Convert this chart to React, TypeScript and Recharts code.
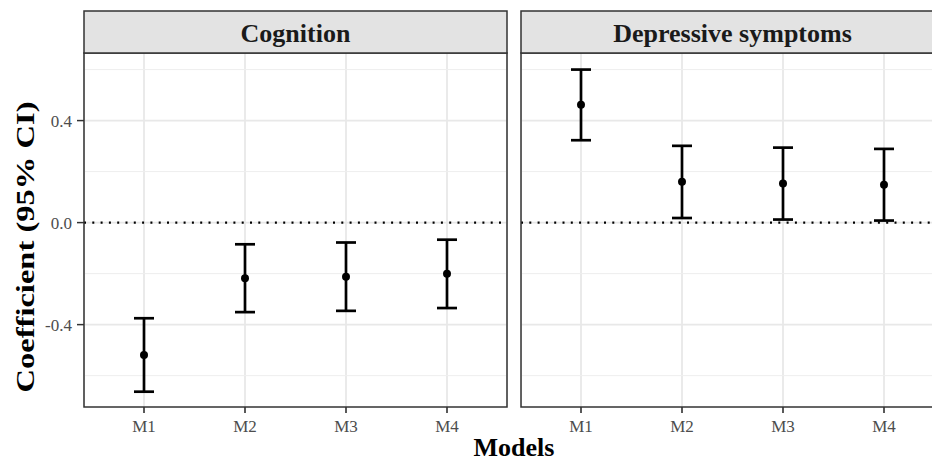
import { CartesianGrid, ComposedChart, ErrorBar, Line, ReferenceLine, XAxis, YAxis } from 'recharts'

const models = ['M1', 'M2', 'M3', 'M4']

const cognitionEst = [-0.519, -0.218, -0.212, -0.201]
const cognitionLow = [-0.663, -0.351, -0.346, -0.335]
const cognitionHigh = [-0.375, -0.085, -0.078, -0.067]

const depressiveEst = [0.462, 0.16, 0.153, 0.148]
const depressiveLow = [0.323, 0.018, 0.012, 0.008]
const depressiveHigh = [0.6, 0.301, 0.294, 0.289]

const yTicks = [-0.4, 0, 0.4]
const yMinor = [-0.6, -0.2, 0.2, 0.6]
const yDomain: [number, number] = [-0.723, 0.665]

const SERIF = '"Liberation Serif", "Times New Roman", serif'

function rows(est: number[], low: number[], high: number[]) {
  return models.map((m, i) => ({ model: m, est: est[i], err: [est[i] - low[i], high[i] - est[i]] }))
}

function Panel(props: { data: any[]; showY: boolean; left: number; width: number }) {
  const { data, showY, left, width } = props
  return (
    <div style={{ position: 'absolute', left, top: 0 }}>
      <ComposedChart width={width} height={461} data={data} margin={{ top: 53, right: 3, bottom: 0, left: 0 }}>
        <CartesianGrid stroke="#e8e8e8" strokeWidth={1.8} horizontalValues={yTicks} />
        <CartesianGrid stroke="#eeeeee" strokeWidth={1} horizontalValues={yMinor} vertical={false} />
        <XAxis
          dataKey="model"
          type="category"
          padding={{ left: 60, right: 60 }}
          height={54}
          axisLine={false}
          tickSize={6}
          tickMargin={7}
          tickLine={{ stroke: '#222', strokeWidth: 1.5 }}
          tick={{ fill: '#4d4d4d', fontSize: 17, fontFamily: SERIF }}
        />
        <YAxis
          type="number"
          domain={yDomain}
          ticks={yTicks}
          allowDataOverflow
          hide={!showY}
          width={showY ? 84 : 0}
          axisLine={false}
          tickSize={7}
          tickMargin={5}
          tickLine={{ stroke: '#333', strokeWidth: 1.5 }}
          tickFormatter={(v: number) => v.toFixed(1)}
          tick={{ fill: '#4d4d4d', fontSize: 17, fontFamily: SERIF }}
        />
        <ReferenceLine y={0} stroke="#000" strokeWidth={2.2} strokeDasharray="2 6.3" />
        <Line
          dataKey="est"
          stroke="none"
          isAnimationActive={false}
          dot={{ r: 4, fill: '#000', stroke: '#000', strokeWidth: 0 }}
          activeDot={false}
        >
          <ErrorBar dataKey="err" direction="y" width={10} stroke="#000" strokeWidth={2.7} />
        </Line>
      </ComposedChart>
    </div>
  )
}

export default function App() {
  const cognition = rows(cognitionEst, cognitionLow, cognitionHigh)
  const depressive = rows(depressiveEst, depressiveLow, depressiveHigh)

  return (
    <div style={{ position: 'absolute', left: 0, top: 0, width: 932, height: 461, overflow: 'hidden', background: '#fff' }}>
      <Panel data={cognition} showY left={0} width={510} />
      <Panel data={depressive} showY={false} left={521} width={426} />
      <svg width={932} height={461} style={{ position: 'absolute', left: 0, top: 0, pointerEvents: 'none' }}>
        {/* panel borders */}
        <rect x={84} y={53} width={423} height={354} fill="none" stroke="#333" strokeWidth={1.5} />
        <rect x={521} y={53} width={423} height={354} fill="none" stroke="#333" strokeWidth={1.5} />
        {/* strips */}
        <rect x={84} y={11} width={423} height={42} fill="#e3e3e3" stroke="#333" strokeWidth={1.5} />
        <rect x={521} y={11} width={423} height={42} fill="#e3e3e3" stroke="#333" strokeWidth={1.5} />
        <text x={295.5} y={42} textAnchor="middle" fontFamily={SERIF} fontWeight="bold" fontSize={26} fill="#1a1a1a">
          Cognition
        </text>
        <text x={732.5} y={42} textAnchor="middle" fontFamily={SERIF} fontWeight="bold" fontSize={26} fill="#1a1a1a">
          Depressive symptoms
        </text>
        <text x={514} y={456} textAnchor="middle" fontFamily={SERIF} fontWeight="bold" fontSize={26} fill="#000">
          Models
        </text>
        <text
          transform="translate(34,247) rotate(-90)"
          textAnchor="middle"
          fontFamily={SERIF}
          fontWeight="bold"
          fontSize={26}
          fill="#000"
          textLength={291}
          lengthAdjust="spacingAndGlyphs"
        >
          Coefficient (95% CI)
        </text>
      </svg>
    </div>
  )
}
